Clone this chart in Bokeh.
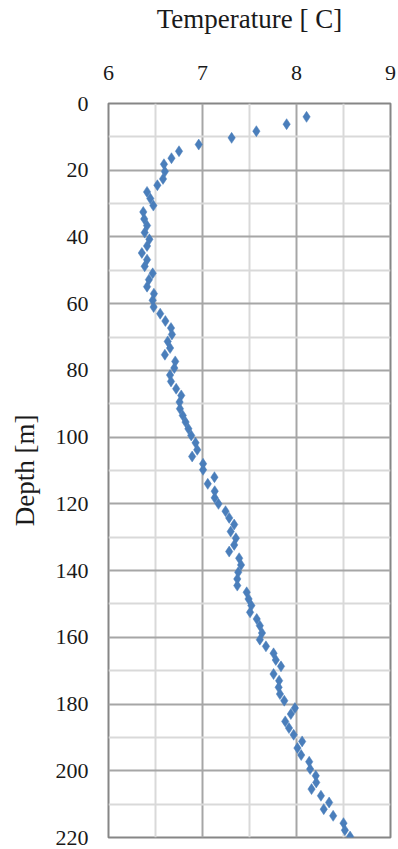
from bokeh.plotting import figure
from bokeh.models import Range1d, FixedTicker
from bokeh.embed import file_html
from bokeh.resources import INLINE

# Temperature profile of a borehole: depth in metres, temperature in degrees C
depth_m = [4.0, 6.2, 8.3, 10.3, 12.3, 14.3, 16.4, 18.2, 20.4, 22.6, 24.5, 26.5, 28.5,
           30.6, 32.5, 34.6, 36.6, 38.7, 40.7, 42.7, 44.8, 46.8, 48.8, 50.9, 52.8, 54.9,
           57.0, 59.0, 61.0, 63.0, 65.2, 67.3, 69.2, 71.3, 73.3, 75.3, 77.3, 79.3, 81.4,
           83.3, 85.5, 87.5, 89.5, 91.5, 93.5, 95.5, 97.5, 99.5, 101.7, 103.8, 105.8,
           108.0, 109.8, 112.0, 114.0, 116.2, 118.2, 120.0, 122.2, 124.2, 126.2, 128.3,
           130.3, 132.3, 134.3, 136.3, 138.3, 140.5, 142.5, 144.5, 146.5, 148.5, 150.5,
           152.5, 154.5, 156.5, 158.7, 160.7, 162.7, 164.8, 166.8, 168.7, 171.0, 173.0,
           175.0, 177.0, 179.0, 181.2, 183.0, 185.2, 187.2, 189.2, 191.2, 193.2, 195.3,
           197.3, 199.5, 201.5, 203.5, 205.5, 207.5, 209.5, 211.5, 213.5, 215.7, 217.8,
           219.7]
temperature_c = [8.107, 7.895, 7.573, 7.31, 6.96, 6.75, 6.67, 6.59, 6.60, 6.58, 6.52, 6.41,
                 6.445, 6.477, 6.37, 6.38, 6.41, 6.385, 6.435, 6.41, 6.355, 6.41, 6.385,
                 6.47, 6.43, 6.41, 6.483, 6.47, 6.48, 6.55, 6.605, 6.665, 6.675, 6.63,
                 6.655, 6.60, 6.71, 6.70, 6.655, 6.665, 6.72, 6.774, 6.756, 6.76, 6.79,
                 6.82, 6.85, 6.88, 6.926, 6.944, 6.89, 7.006, 7.006, 7.127, 7.056, 7.13,
                 7.13, 7.17, 7.245, 7.284, 7.337, 7.30, 7.355, 7.337, 7.284, 7.39, 7.41,
                 7.38, 7.37, 7.37, 7.47, 7.49, 7.52, 7.506, 7.577, 7.61, 7.633, 7.61,
                 7.675, 7.756, 7.78, 7.835, 7.756, 7.815, 7.81, 7.824, 7.87, 7.983, 7.94,
                 7.88, 7.92, 7.97, 8.06, 8.01, 8.05, 8.135, 8.145, 8.205, 8.21, 8.16,
                 8.26, 8.347, 8.29, 8.39, 8.50, 8.515, 8.57]

x_ticks = [6, 7, 8, 9]
y_ticks = [0, 20, 40, 60, 80, 100, 120, 140, 160, 180, 200, 220]

SERIF = "Liberation Serif"

p = figure(width=398, height=849, output_backend="svg", toolbar_location=None,
           x_axis_location="above",
           x_range=Range1d(6, 9), y_range=Range1d(220, 0),
           min_border_left=108, min_border_right=8, min_border_top=103,
           min_border_bottom=12)

p.background_fill_color = "white"
p.border_fill_color = "white"
p.outline_line_color = "#868686"
p.outline_line_width = 2

# Axes: no lines or ticks, just labels around the framed plot area
for ax in (p.xaxis[0], p.yaxis[0]):
    ax.axis_line_color = None
    ax.major_tick_line_color = None
    ax.minor_tick_line_color = None
    ax.major_label_text_font = SERIF
    ax.major_label_text_font_size = "22px"
    ax.major_label_text_color = "#1a1a1a"
    ax.axis_label_text_font = SERIF
    ax.axis_label_text_font_size = "27px"
    ax.axis_label_text_font_style = "normal"
    ax.axis_label_text_color = "#1a1a1a"

p.xaxis.ticker = FixedTicker(ticks=x_ticks, minor_ticks=[6.5, 7.5, 8.5])
p.yaxis.ticker = FixedTicker(ticks=y_ticks, minor_ticks=list(range(10, 220, 20)))
p.xaxis.axis_label = "Temperature [ C]"
p.yaxis.axis_label = "Depth [m]"
p.xaxis.major_label_standoff = 18
p.xaxis.axis_label_standoff = 29
p.yaxis.major_label_standoff = 14
p.yaxis.axis_label_standoff = 13

# Darker major grid, lighter minor grid
p.xgrid.grid_line_color = "#a6a6a6"
p.xgrid.grid_line_width = 2
p.ygrid.grid_line_color = "#a6a6a6"
p.ygrid.grid_line_width = 2
p.xgrid.minor_grid_line_color = "#d9d9d9"
p.xgrid.minor_grid_line_width = 2
p.ygrid.minor_grid_line_color = "#d9d9d9"
p.ygrid.minor_grid_line_width = 2

p.scatter(temperature_c, depth_m, marker="diamond", size=11,
          fill_color="#4a7ebb", line_color="#4a7ebb", line_width=0.5)

open("out.html", "w").write(file_html(p, INLINE))
